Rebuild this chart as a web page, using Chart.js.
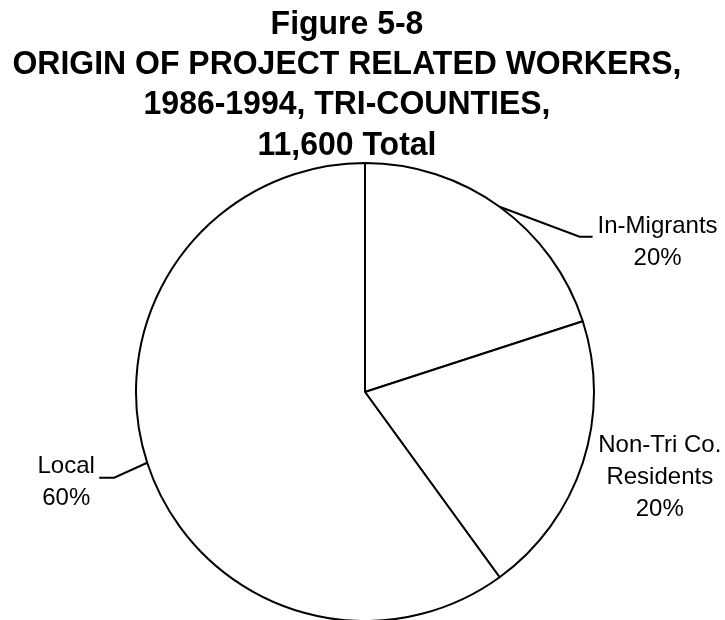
<!DOCTYPE html>
<html>
<head>
<meta charset="utf-8">
<script src="https://cdn.jsdelivr.net/npm/chart.js@4"></script>
<style>
  html, body { margin: 0; padding: 0; background: #fff; }
  #wrap { width: 725px; height: 620px; }
</style>
</head>
<body>
<div id="wrap"><canvas id="origin-chart" width="725" height="620"></canvas></div>
<script>
var titleLines = ['Figure 5-8', 'ORIGIN OF PROJECT RELATED WORKERS,', '1986-1994, TRI-COUNTIES,', '11,600 Total'];
var categories = ['In-Migrants', 'Non-Tri Co. Residents', 'Local'];
var labelLines = [['In-Migrants'], ['Non-Tri Co.', 'Residents'], ['Local']];
var shares = [20, 20, 60];

// title drawn by hand so it can be squeezed a bit like the original
var titlePlugin = {
    id: 'titleLines',
    afterDraw: function (chart) {
        var ctx = chart.ctx;
        ctx.save();
        ctx.font = 'bold 34px "Liberation Sans", Arial, sans-serif';
        ctx.fillStyle = '#000';
        ctx.textAlign = 'center';
        ctx.textBaseline = 'alphabetic';
        var widest = 0;
        titleLines.forEach(function (t) { widest = Math.max(widest, ctx.measureText(t).width); });
        var sx = Math.min(1, 669 / widest);
        var cx = 347;
        var baselines = [34, 74, 114, 155];
        titleLines.forEach(function (t, i) {
            ctx.save();
            ctx.translate(cx, baselines[i]);
            ctx.scale(sx, 1);
            ctx.fillText(t, 0, 0);
            ctx.restore();
        });
        ctx.restore();
    }
};

// slice labels with leader lines, placed from each arc's mid angle
var sliceLabels = {
    id: 'sliceLabels',
    afterDatasetsDraw: function (chart) {
        var ctx = chart.ctx;
        var meta = chart.getDatasetMeta(0);
        var total = shares.reduce(function (a, b) { return a + b; }, 0);
        ctx.save();
        ctx.font = '24px "Liberation Sans", Arial, sans-serif';
        ctx.fillStyle = '#000';
        ctx.strokeStyle = '#000';
        ctx.lineWidth = 2;
        ctx.textAlign = 'center';
        meta.data.forEach(function (arc, i) {
            var p = arc.getProps(['x', 'y', 'startAngle', 'endAngle', 'outerRadius'], true);
            var mid = (p.startAngle + p.endAngle) / 2;
            var ex = p.x + Math.cos(mid) * p.outerRadius;
            var ey = p.y + Math.sin(mid) * p.outerRadius;
            var lines = labelLines[i].concat([Math.round(shares[i] / total * 100) + '%']);
            var tx, ty;
            if (i === 0) {
                ctx.beginPath();
                ctx.moveTo(ex, ey);
                ctx.lineTo(ex + 80, ey + 30);
                ctx.lineTo(ex + 93, ey + 30);
                ctx.stroke();
                tx = ex + 158; ty = ey + 26;
            } else if (i === 1) {
                tx = ex + 77; ty = ey - 11;
            } else {
                ctx.beginPath();
                ctx.moveTo(ex, ey);
                ctx.lineTo(ex - 33, ey + 15);
                ctx.lineTo(ex - 48, ey + 15);
                ctx.stroke();
                tx = ex - 81; ty = ey + 10;
            }
            lines.forEach(function (t, k) {
                ctx.fillText(t, tx, ty + k * 32);
            });
        });
        ctx.restore();
    }
};

var ctx = document.getElementById('origin-chart').getContext('2d');
var chart = new Chart(ctx, {
    type: 'pie',
    data: {
        labels: categories,
        datasets: [{
            data: shares,
            backgroundColor: '#ffffff',
            borderColor: '#000000',
            borderWidth: 2,
            borderAlign: 'center'
        }]
    },
    options: {
        responsive: false,
        animation: false,
        events: [],
        radius: 229,
        layout: { padding: { left: 5, right: 0, top: 164, bottom: 0 } },
        plugins: {
            legend: { display: false },
            title: { display: false },
            tooltip: { enabled: false }
        }
    },
    plugins: [titlePlugin, sliceLabels]
});
</script>
</body>
</html>
